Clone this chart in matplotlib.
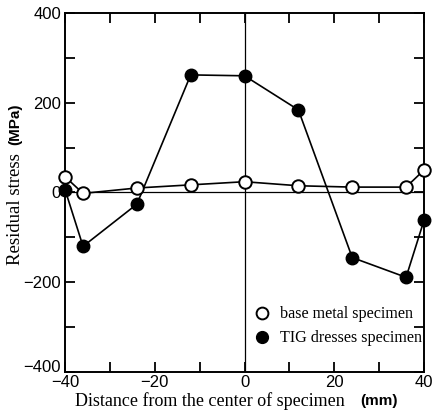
import matplotlib
matplotlib.use("Agg")
import matplotlib.pyplot as plt
import matplotlib.transforms as mtransforms
from matplotlib.lines import Line2D
from matplotlib.ticker import MultipleLocator

# Measurement positions (mm) and residual stresses (MPa)
x_pos = [-40, -36, -24, -12, 0, 12, 24, 36, 40]
base_metal = [35, -2, 10, 17, 24, 15, 12, 12, 50]
tig_dressed = [6, -120, -26, 262, 260, 184, -145, -189, -62]

xticks = [-40, -20, 0, 20, 40]
yticks = [-400, -200, 0, 200, 400]

serif = "Liberation Serif"
sans = "Liberation Sans"

fig = plt.figure(figsize=(4.34, 4.18), dpi=100)
ax = fig.add_axes([0.150, 0.110, 0.827, 0.859])

ax.axhline(0, color="black", lw=0.9, zorder=1)
ax.axvline(0, color="black", lw=0.9, zorder=1)

ax.plot(x_pos, tig_dressed, color="black", lw=1.2, marker="o", ms=9,
        mfc="black", mec="black", clip_on=False, zorder=3)
ax.plot(x_pos, base_metal, color="black", lw=1.2, marker="o", ms=9,
        mfc="white", mec="black", mew=1.4, clip_on=False, zorder=4)

ax.set_xlim(-40, 40)
ax.set_ylim(-400, 400)
ax.set_xticks(xticks)
ax.set_yticks(yticks)
ax.xaxis.set_minor_locator(MultipleLocator(10))
ax.yaxis.set_minor_locator(MultipleLocator(100))
ax.tick_params(which="both", direction="in", top=True, right=True,
               width=1.3, labelsize=12)
ax.tick_params(axis="x", pad=2)
ax.tick_params(axis="y", pad=3)
ax.tick_params(which="major", length=7)
ax.tick_params(which="minor", length=7)
for lab in ax.get_xticklabels() + ax.get_yticklabels():
    lab.set_fontfamily(sans)
for s in ax.spines.values():
    s.set_linewidth(1.4)

# lift the bottom y label a little so it sits clear of the "-40" x label
fig.canvas.draw()
lift = mtransforms.ScaledTranslation(0, 4 / 72, fig.dpi_scale_trans)
bottom_label = ax.get_yticklabels()[0]
bottom_label.set_transform(bottom_label.get_transform() + lift)

# Axis titles: descriptive text in serif, units in sans
fig.text(0.173, 0.040, "Distance from the center of specimen", fontsize=13,
         family=serif, ha="left", va="center")
fig.text(0.829, 0.040, "(mm)", fontsize=11, family=sans, weight="bold",
         ha="left", va="center")
fig.text(0.035, 0.366, "Residual stress", fontsize=13.5, family=serif,
         rotation=90, ha="center", va="bottom")
fig.text(0.035, 0.653, "(MPa)", fontsize=11, family=sans, weight="bold",
         rotation=90, ha="center", va="bottom")

handles = [
    Line2D([], [], ls="none", marker="o", ms=8.5, mfc="white", mec="black",
           mew=1.4),
    Line2D([], [], ls="none", marker="o", ms=8.5, mfc="black", mec="black"),
]
ax.legend(handles, ["base metal specimen", "TIG dresses specimen"],
          loc="lower right", bbox_to_anchor=(1.025, 0.04), frameon=False,
          prop={"family": serif, "size": 11.6}, handlelength=1.0,
          handletextpad=0.6, labelspacing=0.5, borderaxespad=0.3)

fig.savefig("out.png", dpi=100)
